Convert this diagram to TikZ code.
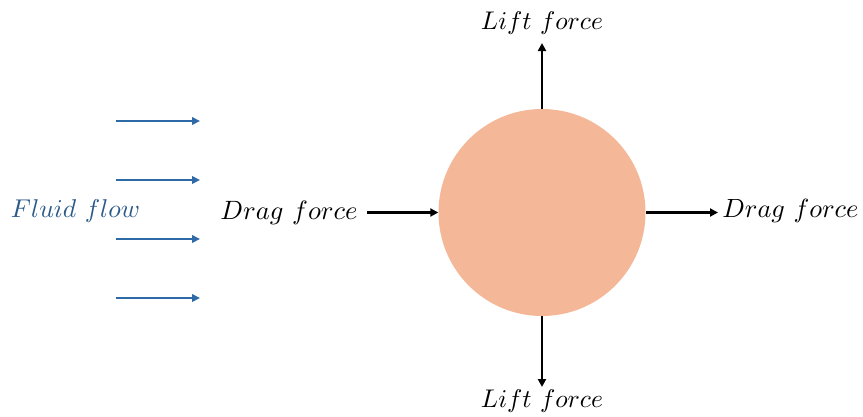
\documentclass[tikz,border=0pt]{standalone}
\usepackage{graphicx}
\usetikzlibrary{arrows.meta}
\definecolor{ball}{HTML}{F4B899}
\definecolor{flow}{HTML}{2E6AA6}
\definecolor{flowtext}{HTML}{2B5A8A}
\newcommand{\lbl}[2]{\resizebox{#2pt}{!}{$#1$}}
\begin{document}
\begin{tikzpicture}[x=1pt,y=-1pt,
  force/.style={line width=2.3pt,-{Triangle[length=8pt,width=8pt]}},
  flowarrow/.style={line width=2.4pt,color=flow,-{Triangle[length=8pt,width=7.5pt]}},
  txt/.style={inner sep=0pt}]
\useasboundingbox (0,0) rectangle (863,416);
\node[circle,fill=ball,minimum size=207pt,inner sep=0pt] (ball) at (542,212.5) {};
\node[txt] (lt) at (542,23) {\lbl{Lift\ force}{122}};
\node[txt] (lb) at (542,401) {\lbl{Lift\ force}{122}};
\node[txt] (dl) at (289,213) {\lbl{Drag\ force}{137}};
\node[txt] (dr) at (790.5,211) {\lbl{Drag\ force}{136}};
\node[txt] (ff) at (75.5,211) {\color{flowtext}\lbl{Fluid\ flow}{129}};
\coordinate (ltend) at (542,43);
\coordinate (lbend) at (542,387);
\coordinate (dlstart) at (367,212.5);
\coordinate (drend) at (718,212.5);
\draw[force] (ball.north) -- (ltend);
\draw[force] (ball.south) -- (lbend);
\draw[force] (dlstart) -- (ball.west);
\draw[force] (ball.east) -- (drend);
\foreach \y/\n in {121/a,180/b,239/c,298/d}{
  \coordinate (fs\n) at (116,\y);
  \coordinate (fe\n) at (200,\y);
  \draw[flowarrow] (fs\n) -- (fe\n);
}
\end{tikzpicture}
\end{document}
